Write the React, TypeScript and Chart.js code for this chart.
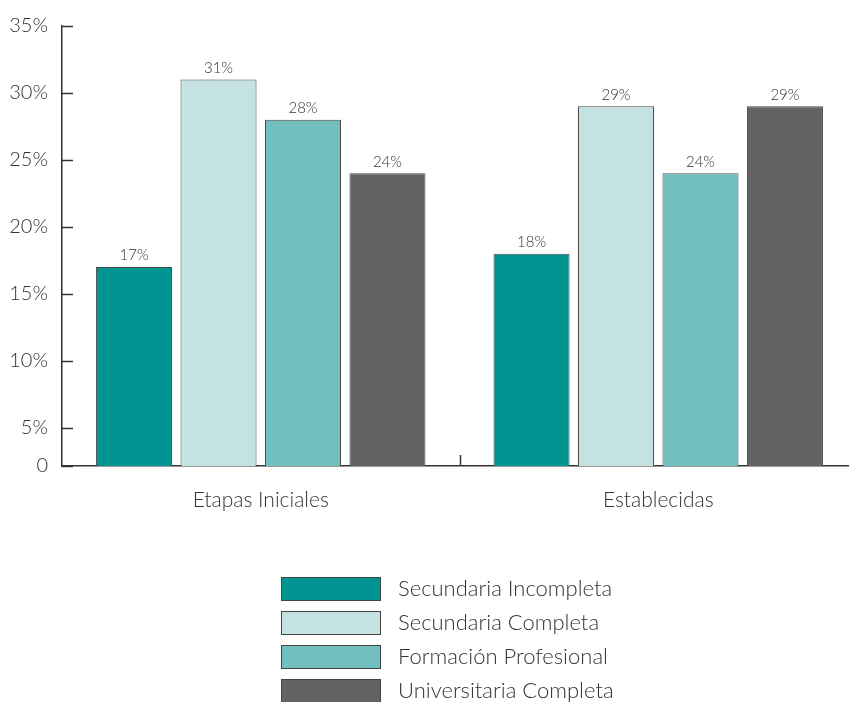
import React, { useEffect, useRef } from "react";
import { Chart, registerables } from "chart.js";

Chart.register(...registerables);

const categories = ["Etapas Iniciales", "Establecidas"];
const seriesNames = [
  "Secundaria Incompleta",
  "Secundaria Completa",
  "Formación Profesional",
  "Universitaria Completa",
];
const secundariaIncompleta = [17, 18];
const secundariaCompleta = [31, 29];
const formacionProfesional = [28, 24];
const universitariaCompleta = [24, 29];
const seriesColors = ["#009590", "#c5e2e2", "#72bfc0", "#636365"];
const yTickValues = [5, 10, 15, 20, 25, 30, 35];
const yMin = 2.15;
const yMax = 35;

const FONT = "Lato, 'Open Sans', sans-serif";
const TEXT = "#333333";

const decorPlugin = {
  id: "decor",
  afterDatasetsDraw(chart: any) {
    const ctx = chart.ctx;
    const area = chart.chartArea;
    const ys = chart.scales.y;
    const xs = chart.scales.x;
    ctx.save();
    // inward y ticks
    ctx.strokeStyle = "#333";
    ctx.lineWidth = 1.5;
    ys.ticks.forEach((t: any) => {
      const py = Math.round(ys.getPixelForValue(t.value)) + 0.5;
      ctx.beginPath();
      ctx.moveTo(area.left, py);
      ctx.lineTo(area.left + 11, py);
      ctx.stroke();
    });
    // category separator tick
    for (let i = 0; i < categories.length - 1; i++) {
      const px = Math.round((xs.getPixelForTick(i) + xs.getPixelForTick(i + 1)) / 2) + 0.5;
      ctx.beginPath();
      ctx.moveTo(px, area.bottom);
      ctx.lineTo(px, area.bottom - 11);
      ctx.stroke();
    }
    // value labels
    ctx.fillStyle = TEXT;
    ctx.font = `300 15px ${FONT}`;
    ctx.textAlign = "center";
    ctx.textBaseline = "bottom";
    chart.data.datasets.forEach((ds: any, di: number) => {
      const meta = chart.getDatasetMeta(di);
      meta.data.forEach((el: any, i: number) => {
        ctx.fillText(ds.data[i] + "%", el.x, el.y - 4);
      });
    });
    // legend
    const boxLeft = area.left + 219;
    let top = area.bottom + 111;
    ctx.font = `300 22px ${FONT}`;
    ctx.textAlign = "left";
    ctx.textBaseline = "middle";
    chart.data.datasets.forEach((ds: any) => {
      ctx.fillStyle = ds.backgroundColor;
      ctx.fillRect(boxLeft, top, 100, 24);
      ctx.strokeStyle = "#444";
      ctx.lineWidth = 1;
      ctx.strokeRect(boxLeft + 0.5, top + 0.5, 99, 23);
      ctx.fillStyle = TEXT;
      ctx.fillText(ds.label, boxLeft + 117, top + 12);
      top += 34;
    });
    ctx.restore();
  },
};

export default function App() {
  const ref = useRef<HTMLCanvasElement | null>(null);
  useEffect(() => {
    if (!ref.current) return;
    const values = [secundariaIncompleta, secundariaCompleta, formacionProfesional, universitariaCompleta];
    const chart = new Chart(ref.current, {
      type: "bar",
      data: {
        labels: categories,
        datasets: seriesNames.map((name, i) => ({
          label: name,
          data: values[i],
          backgroundColor: seriesColors[i],
          borderColor: "#4a4a4a",
          borderWidth: 1,
          categoryPercentage: 0.85,
          barPercentage: 0.9,
        })),
      },
      options: {
        animation: false,
        responsive: false,
        maintainAspectRatio: false,
        layout: { padding: { top: 25, right: 0, left: 0, bottom: 0 } },
        plugins: { legend: { display: false }, tooltip: { enabled: false } },
        scales: {
          x: {
            grid: { display: false, drawTicks: false },
            border: { display: true, color: "#333", width: 1.5 },
            ticks: { color: TEXT, font: { family: FONT, size: 21, weight: 300 }, padding: 22 },
            afterFit: (s: any) => { s.height = 236; },
          },
          y: {
            min: yMin,
            max: yMax,
            grid: { display: false, drawTicks: false },
            border: { display: true, color: "#333", width: 1.5 },
            afterBuildTicks: (s: any) => {
              s.ticks = [yMin, ...yTickValues].map((v) => ({ value: v }));
            },
            ticks: {
              color: TEXT,
              font: { family: FONT, size: 20, weight: 300 },
              padding: 14,
              callback: (v: any) => (Number(v) < 5 ? "0" : v + "%"),
            },
            afterFit: (s: any) => { s.width = 62; },
          },
        },
      },
      plugins: [decorPlugin],
    });
    return () => chart.destroy();
  }, []);
  return (
    <div style={{ position: "fixed", left: 0, top: 0, width: 849, height: 702, overflow: "hidden", background: "#fff" }}>
      <canvas ref={ref} width={857} height={702} style={{ display: "block" }} />
    </div>
  );
}
